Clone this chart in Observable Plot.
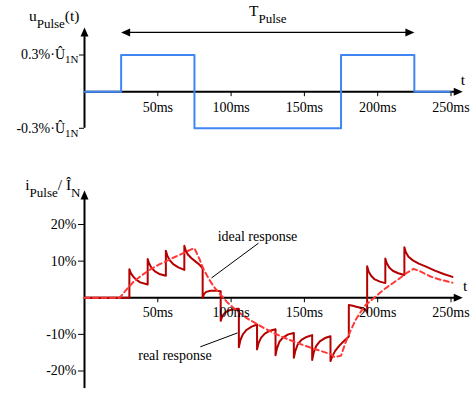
<!DOCTYPE html>
<html><head><meta charset="utf-8">
<script src="https://cdn.jsdelivr.net/npm/d3@7"></script>
<script src="https://cdn.jsdelivr.net/npm/@observablehq/plot@0.6"></script>
<style>
body{margin:0;background:#fff}
#chart svg{display:block}
#chart svg, #chart svg text{font-family:"Liberation Serif","Times New Roman",serif !important}
</style>
</head><body><div id="chart"></div>
<script>
// ---------- data ----------
const ticksX = [50, 100, 150, 200, 250];
const tickLabelsX = ["50ms", "100ms", "150ms", "200ms", "250ms"];

const pulseT = [0, 25, 25, 75, 75, 175, 175, 225, 225, 250];
const pulseV = [0, 0, 0.3, 0.3, -0.3, -0.3, 0.3, 0.3, 0, 0];
const pulsePeriod = [25, 225];

const ticksYTop = [-0.3, 0.3];
const tickLabelsYTop = ["-0.3%·Û_{1N}", "0.3%·Û_{1N}"];
const ticksYBottom = [-20, -10, 10, 20];
const tickLabelsYBottom = ["-20%", "-10%", "10%", "20%"];

const realT = [0, 30.6, 30.6, 31.5, 33, 35, 38, 43.1,
  43.1, 44, 45.5, 48, 51, 55.5,
  55.5, 56.5, 58, 60.5, 64, 68.1,
  68.1, 69, 70.5, 73, 76, 78.5, 80.6,
  80.6, 81.5, 83, 86, 90, 92.9,
  92.9, 94, 96, 99, 102, 105.3,
  105.3, 106.3, 108, 110.5, 114, 117.7,
  117.7, 118.7, 120.5, 123, 126.5, 130.3,
  130.3, 131.3, 133, 135.5, 139, 142.8,
  142.8, 143.8, 145.5, 148, 151.5, 155.3,
  155.3, 156.3, 158, 160.5, 164, 167.8,
  167.8, 169, 171, 174, 177, 180.3,
  180.3, 183, 186, 189, 191.5, 192.8,
  192.8, 193.8, 195.5, 198, 201.5, 205.2,
  205.2, 206.2, 208, 210.5, 214, 218.2,
  218.2, 219.2, 221, 224, 228, 233, 239, 245, 251];
const realV = [0, 0, 7.8, 6.8, 5.9, 5.0, 4.2, 3.6,
  10.6, 9.4, 8.3, 7.2, 6.5, 6.0,
  12.8, 11.5, 10.3, 9.2, 8.3, 7.6,
  14.2, 13.0, 11.8, 10.8, 9.8, 9.0, 8.0,
  0, 1.0, 1.6, 1.9, 1.9, 1.8,
  -6.3, -5.0, -4.0, -3.4, -3.1, -3.0,
  -13.5, -11.6, -10.0, -8.8, -7.9, -7.3,
  -14.1, -12.4, -10.9, -9.8, -9.0, -8.6,
  -15.7, -13.8, -12.0, -10.8, -10.0, -9.6,
  -16.4, -14.5, -12.7, -11.5, -10.7, -10.2,
  -17.0, -15.0, -13.2, -11.9, -11.0, -10.5,
  -17.3, -16.0, -14.5, -13.0, -11.8, -10.6,
  -2.0, -2.2, -2.5, -2.8, -3.2, -4.0,
  8.6, 7.2, 6.0, 5.0, 4.4, 4.0,
  10.7, 9.4, 8.2, 7.3, 6.7, 6.2,
  13.8, 12.4, 11.2, 10.2, 9.3, 8.5, 7.4, 6.5, 5.7];

const idealT = [0, 24, 29, 34, 40, 45.5, 51, 56.8, 62, 67, 72.8, 75, 78.4, 81, 85, 89, 93, 97.3,
  102, 107, 112, 117.8, 123, 129, 135, 140.5, 147, 154, 161, 168, 170.5, 175, 178, 181.5,
  185, 188.5, 191.7, 198.5, 204, 210, 215, 219, 224.5, 229, 236, 243, 251];
const idealV = [0, 0, 2.4, 4.6, 6.4, 7.9, 9.1, 10.2, 11.2, 12.1, 13.2, 13.5, 10.6, 8.0, 5.0, 2.6, 0.8, -1.2,
  -2.9, -4.5, -5.9, -7.2, -8.4, -9.6, -10.7, -11.6, -12.6, -13.6, -14.5, -15.4, -16.2, -15.8, -12.3, -9.0,
  -6.0, -3.8, -2.0, 0.3, 2.2, 3.9, 5.3, 6.6, 7.9, 7.2, 5.8, 4.9, 4.1];

const annotationLabels = ["ideal response", "real response"];

// ---------- layout / style constants ----------
const FONT = "'Liberation Serif', 'Times New Roman', serif";
const X_RANGE = [84, 450.5];
const X_TIP = 258;
const BLUE = "#3f86f2", DARKRED = "#b40000", LIGHTRED = "#ff3838";
// annotation placement (data units)
const annT = [118, 61.7], annV = [16.7, -15.8];
const leadT1 = [118.7, 104.4], leadV1 = [14.9, -9.6];
const leadT2 = [86.6, 79], leadV2 = [5.4, -13.4];

const arrowHead = { draw(ctx) { ctx.moveTo(0, 0); ctx.lineTo(-9, -4); ctx.lineTo(-9, 4); ctx.closePath(); } };
const head = (x, y, rotate) => Plot.dot([0], {x: [x], y: [y], symbol: arrowHead, rotate, fill: "black", stroke: null, r: 4});

const style = {fontFamily: FONT, fontSize: "14px", background: "white", overflow: "visible", color: "black"};

// ---------- top chart ----------
const topChart = Plot.plot({
  width: 476, height: 150,
  marginLeft: 84, marginRight: 25.5, marginTop: 0, marginBottom: 150 - 91.15,
  style,
  x: {domain: [0, 250], range: X_RANGE},
  y: {domain: [-0.3, 0.3], range: [127.8, 54.5]},
  marks: [
    Plot.ruleY([0], {x1: 0, x2: X_TIP - 4, stroke: "black", strokeWidth: 2}),
    Plot.ruleX([0], {y1: -0.3, y2: 0.45, stroke: "black", strokeWidth: 2}),
    head(X_TIP, 0, 0),
    head(0, 0.526, -90),
    Plot.line(pulseT, {x: pulseT, y: pulseV, stroke: BLUE, strokeWidth: 2}),
    Plot.ruleY([0.485], {x1: pulsePeriod[0] + 4, x2: pulsePeriod[1] - 4, stroke: "black", strokeWidth: 1.3}),
    head(pulsePeriod[0], 0.485, 180),
    head(pulsePeriod[1], 0.485, 0),
    Plot.text(["T_{Pulse}"], {x: [(pulsePeriod[0] + pulsePeriod[1]) / 2], y: [0.616], text: d => d, textAnchor: "middle", lineAnchor: "bottom", fontSize: 15.5}),
    Plot.text(["u_{Pulse}(t)"], {x: [0], y: [0.575], text: d => d, textAnchor: "end", dx: -5, lineAnchor: "bottom", fontSize: 15.5}),
    Plot.text(["t"], {x: [258.2], y: [0.099], text: d => d, textAnchor: "middle", fontSize: 15.5}),
    Plot.axisX({ticks: ticksX, tickFormat: d => tickLabelsX[ticksX.indexOf(d)], tickSize: 5, tickPadding: 5, label: null, anchor: "bottom"}),
    Plot.axisY({ticks: ticksYTop, tickFormat: d => tickLabelsYTop[ticksYTop.indexOf(d)], tickSize: 5, tickPadding: 1, label: null, anchor: "left"})
  ]
});

// ---------- bottom chart ----------
const bottomChart = Plot.plot({
  width: 476, height: 244,
  marginLeft: 84, marginRight: 25.5, marginTop: 0, marginBottom: 244 - 147.25,
  style,
  x: {domain: [0, 250], range: X_RANGE},
  y: {domain: [-20, 20], range: [220.5, 74]},
  marks: [
    Plot.ruleY([0], {x1: 0, x2: X_TIP - 4, stroke: "black", strokeWidth: 2}),
    Plot.ruleX([0], {y1: -24.8, y2: 27, stroke: "black", strokeWidth: 2}),
    head(X_TIP, 0, 0),
    head(0, 29.3, -90),
    Plot.line(realT, {x: realT, y: realV, stroke: DARKRED, strokeWidth: 2}),
    Plot.line(idealT, {x: idealT, y: idealV, stroke: LIGHTRED, strokeWidth: 2, strokeDasharray: "5,3.5"}),
    Plot.link(annotationLabels, {x1: leadT1, y1: leadV1, x2: leadT2, y2: leadV2, stroke: "black", strokeWidth: 1}),
    Plot.text(annotationLabels, {x: annT, y: annV, text: d => d, textAnchor: "middle", fontSize: 14}),
    Plot.text(["i_{Pulse}/ Î_{N}"], {x: [0], y: [29.3], text: d => d, textAnchor: "end", dx: -4, lineAnchor: "bottom", fontSize: 15.5}),
    Plot.text(["t"], {x: [259.6], y: [3.3], text: d => d, textAnchor: "middle", fontSize: 15.5}),
    Plot.axisX({ticks: ticksX, tickFormat: d => tickLabelsX[ticksX.indexOf(d)], tickSize: 5, tickPadding: 4, label: null, anchor: "bottom"}),
    Plot.axisY({ticks: ticksYBottom, tickFormat: d => tickLabelsYBottom[ticksYBottom.indexOf(d)], tickSize: 6, tickPadding: 2, label: null, anchor: "left"})
  ]
});

// ---------- subscripts as tspans ----------
function richify(svg) {
  d3.select(svg).selectAll("text").each(function () {
    const s = this.textContent;
    if (!s.includes("_{")) return;
    const isTick = this.closest('g[aria-label="y-axis tick label"]') !== null;
    const shift = isTick ? 4 : 7;
    const subSize = isTick ? 11 : 13;
    const parts = s.split(/(_\{[^}]*\})/).filter(p => p.length);
    const el = d3.select(this);
    el.text(null);
    let down = false;
    for (const p of parts) {
      const m = p.match(/^_\{([^}]*)\}$/);
      const ts = el.append("tspan");
      if (m) { ts.text(m[1]).attr("font-size", subSize); if (!down) ts.attr("dy", shift); down = true; }
      else { ts.text(p); if (down) { ts.attr("dy", -shift); down = false; } }
    }
  });
}
richify(topChart); richify(bottomChart);
document.getElementById("chart").append(topChart, bottomChart);
</script>
</body></html>
